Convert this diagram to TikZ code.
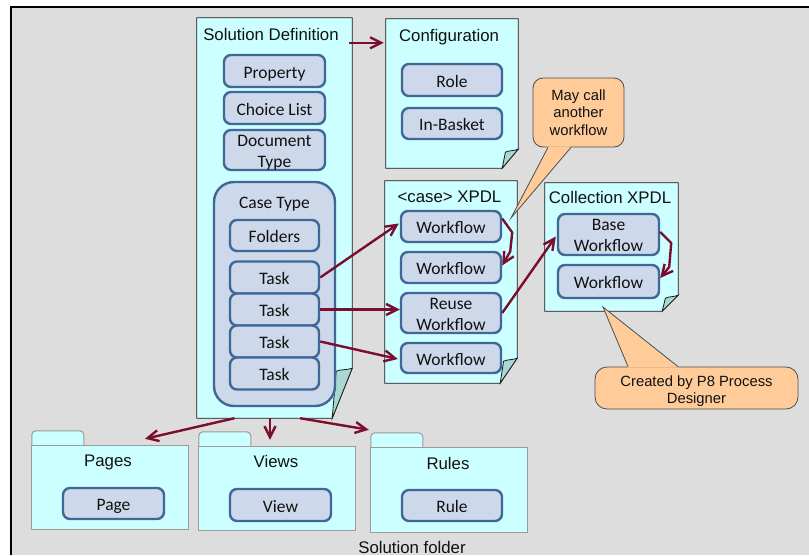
\documentclass[tikz,border=0pt]{standalone}
\usepackage{fontspec}
\setmainfont{Liberation Sans}
\newfontfamily\boxfont{Carlito}
\usetikzlibrary{arrows.meta}

\definecolor{bggray}{HTML}{DDDDDD}
\definecolor{sheet}{HTML}{CCFFFF}
\definecolor{foldcol}{HTML}{A8D8D4}
\definecolor{sheetedge}{HTML}{1A1A1A}
\definecolor{folderedge}{HTML}{9A9A9A}
\definecolor{boxfill}{HTML}{CDD8EA}
\definecolor{boxline}{HTML}{3F6899}
\definecolor{arrowred}{HTML}{7B0D2E}
\definecolor{calfill}{HTML}{FFCC99}
\definecolor{caledge}{HTML}{4D4D4D}
\definecolor{ink}{HTML}{111111}

% two centred lines set in one box whose baseline is the first line
\newcommand\twol[2]{\vtop{\baselineskip=20.9pt\halign{\hfil##\hfil\cr#1\cr#2\cr}}}
% the same for the callout text, with a tighter line spacing
\newcommand\twolnote[2]{\vtop{\baselineskip=17pt\halign{\hfil##\hfil\cr#1\cr#2\cr}}}

% a sheet of paper with a turned-up bottom right corner, drawn round node #1
% #2 = width of the fold, #3 = height of the fold
\newcommand\docpage[3]{%
  \filldraw[sheetline] (#1.north west) -- (#1.north east) -- ([yshift=#3pt]#1.south east)
    -- ([xshift=-#2pt]#1.south east) -- (#1.south west) -- cycle;
  \filldraw[foldline] ([xshift=-#2pt]#1.south east)
    -- ([xshift=-0.8*#2pt, yshift=#3pt-3pt]#1.south east)
    .. controls +(4,-2) and +(-5,2) .. ([yshift=#3pt]#1.south east) -- cycle;
}

% a folder: body node #1 with a tab on its upper left
\newcommand\folder[1]{%
  \filldraw[folderpart, rounded corners=4pt] (#1.north west) -- ++(0,-15) -- ++(52,0) -- ++(0,15);
  \filldraw[folderpart] (#1.north west) rectangle (#1.south east);
}

\begin{document}
\begin{tikzpicture}[x=1pt, y=-1pt,
  ttl/.style={font=\fontsize{16.8}{20}\selectfont, text=ink, inner sep=0pt, anchor=base},
  ibox/.style={draw=boxline, fill=boxfill, line width=2.4pt, rounded corners=7pt,
    inner sep=0pt, font=\boxfont\fontsize{17.5}{21}\selectfont, text=ink,
    text height=15pt, text depth=1pt},
  ibox2/.style={ibox, text height=12pt, text depth=19.2pt},
  casebox/.style={draw=boxline, fill=boxfill, line width=2.4pt, rounded corners=20pt, inner sep=0pt},
  holder/.style={inner sep=0pt, draw=none},
  sheetline/.style={fill=sheet, draw=sheetedge, line width=0.8pt},
  foldline/.style={fill=foldcol, draw=sheetedge, line width=0.8pt},
  folderpart/.style={fill=sheet, draw=folderedge, line width=1pt},
  link/.style={draw=arrowred, line width=2.4pt, line join=round,
    -{Straight Barb[length=11pt,width=11pt]}},
  note/.style={fill=calfill, draw=caledge, line width=0.8pt, inner sep=0pt,
    font=\fontsize{14.8}{17.5}\selectfont, text=ink, align=center},
  notefill/.style={fill=calfill},
  noteedge/.style={draw=caledge, line width=0.8pt},
]
\useasboundingbox (0,0) rectangle (809,555);

% canvas and frame
\fill[white] (0,0) rectangle (809,555);
\fill[bggray] (11,7) rectangle (809,555);
\draw[line width=1.6pt] (11,555) -- (11,7) -- (809,7);

% ---------- sheets ----------
\node[holder, minimum width=155pt, minimum height=400pt] (sd) at (274.5,218) {};
\node[holder, minimum width=132pt, minimum height=149pt] (cfg) at (452,93.5) {};
\node[holder, minimum width=132pt, minimum height=202pt] (cx) at (451,282) {};
\node[holder, minimum width=133pt, minimum height=128pt] (coll) at (611.5,247) {};
\docpage{sd}{20}{50}
\docpage{cfg}{16}{19}
\docpage{cx}{17}{25}
\docpage{coll}{16}{16}

\node[ttl] (sd-title) at (271,40) {Solution Definition};
\node[ttl] (cfg-title) at (449,41) {Configuration};
\node[ttl] (cx-title) at (449.5,202) {<case> XPDL};
\node[ttl] (coll-title) at (610,203.3) {Collection XPDL};

% ---------- solution definition contents ----------
\node[ibox, minimum width=101pt, minimum height=32pt] (prop) at (274.5,71) {Property};
\node[ibox, minimum width=101pt, minimum height=32pt] (choice) at (274.5,108) {Choice List};
\node[ibox2, minimum width=101pt, minimum height=40pt] (doctype) at (274.5,150) {\twol{Document}{Type}};

\node[casebox, minimum width=121pt, minimum height=224pt] (ct) at (274.5,294) {};
\node[ttl, font=\boxfont\fontsize{17.5}{21}\selectfont] (ct-title) at (274.5,208) {Case Type};
\node[ibox, minimum width=89pt, minimum height=31pt] (fold) at (274.5,235.5) {Folders};
\node[ibox, minimum width=89pt, minimum height=32pt] (t1) at (274.5,277.5) {Task};
\node[ibox, minimum width=89pt, minimum height=32pt] (t2) at (274.5,309.5) {Task};
\node[ibox, minimum width=89pt, minimum height=32pt] (t3) at (274.5,341.5) {Task};
\node[ibox, minimum width=89pt, minimum height=32pt] (t4) at (274.5,373.5) {Task};

% ---------- configuration ----------
\node[ibox, minimum width=100pt, minimum height=32pt] (role) at (452,80) {Role};
\node[ibox, minimum width=100pt, minimum height=31pt] (inbasket) at (452,123.5) {In-Basket};

% ---------- case XPDL ----------
\node[ibox, minimum width=100pt, minimum height=31pt] (wf1) at (451,226.5) {Workflow};
\node[ibox, minimum width=100pt, minimum height=31pt] (wf2) at (451,267.5) {Workflow};
\node[ibox2, minimum width=100pt, minimum height=40pt] (reuse) at (451,313) {\twol{Reuse}{Workflow}};
\node[ibox, minimum width=100pt, minimum height=30pt] (wf4) at (451,358) {Workflow};

% ---------- collection XPDL ----------
\node[ibox2, minimum width=101pt, minimum height=41pt] (base) at (608.5,234.5) {\twol{Base}{Workflow}};
\node[ibox, minimum width=101pt, minimum height=33pt] (cwf) at (608.5,281.5) {Workflow};

% ---------- folders ----------
\node[holder, minimum width=156pt, minimum height=83pt] (pages) at (110,487.5) {};
\node[holder, minimum width=156pt, minimum height=83pt] (views) at (277,488.5) {};
\node[holder, minimum width=156pt, minimum height=84pt] (rules) at (449,490) {};
\folder{pages}
\folder{views}
\folder{rules}
\node[ttl] (pages-title) at (108,466) {Pages};
\node[ttl] (views-title) at (276,467.5) {Views};
\node[ttl] (rules-title) at (448,469) {Rules};
\node[ibox, minimum width=101pt, minimum height=31pt] (page) at (113.5,503.5) {Page};
\node[ibox, minimum width=101pt, minimum height=32pt] (view) at (280.5,505) {View};
\node[ibox, minimum width=100pt, minimum height=31pt] (rule) at (452,505.5) {Rule};

\node[ttl] (sf-title) at (412,553) {Solution folder};

% ---------- connectors ----------
\draw[link] ([xshift=-3pt, yshift=-25pt]sd.north east) -- ([xshift=-2pt, yshift=-24pt]cfg.north west);
\draw[link] (t1.east) -- ([xshift=-1pt, yshift=3pt]wf1.west);
\draw[link] (t2.east) -- (t2.east -| reuse.west);
\draw[link] (t3.east) -- ([xshift=-2pt, yshift=-1pt]wf4.west);
\draw[link] ([yshift=8pt]wf1.east) -- ++(10,14) -- ++(-2,19) -- ([yshift=2pt]wf2.east);
\draw[link] (reuse.east) -- ([xshift=-1pt, yshift=-2pt]base.west);
\draw[link] ([yshift=2.5pt]base.east) -- ++(11,11) -- ++(-2,24) -- ([yshift=3.5pt]cwf.east);
\draw[link] ([xshift=-40pt]sd.south) -- ([xshift=35pt, yshift=7pt]pages.north);
\draw[link] ([xshift=-4.5pt]sd.south) -- ([xshift=-7pt, yshift=7pt]views.north);
\draw[link] ([xshift=25.5pt]sd.south) -- ([xshift=-2pt, yshift=18pt]rules.north west);

% ---------- callouts ----------
\node[note, minimum width=91pt, minimum height=69pt, rounded corners=10pt] (c1) at (578.5,112.5) {May call\\another\\workflow};
\coordinate (c1tip) at (511,218);
\fill[notefill] ([xshift=-30.5pt, yshift=1pt]c1.south) -- (c1tip) -- ([xshift=-7.5pt, yshift=1pt]c1.south) -- cycle;
\draw[noteedge] ([xshift=-30.5pt]c1.south) -- (c1tip) -- ([xshift=-7.5pt]c1.south);

\node[note, minimum width=203pt, minimum height=42pt, rounded corners=12pt,
      text height=10pt, text depth=14pt] (c2) at (696.5,388) {\twolnote{Created by P8 Process}{Designer}};
\coordinate (c2tip) at (603,307);
\fill[notefill] ([xshift=-68.5pt, yshift=-1pt]c2.north) -- (c2tip) -- ([xshift=-18.5pt, yshift=-1pt]c2.north) -- cycle;
\draw[noteedge] ([xshift=-68.5pt]c2.north) -- (c2tip) -- ([xshift=-18.5pt]c2.north);
\end{tikzpicture}
\end{document}
